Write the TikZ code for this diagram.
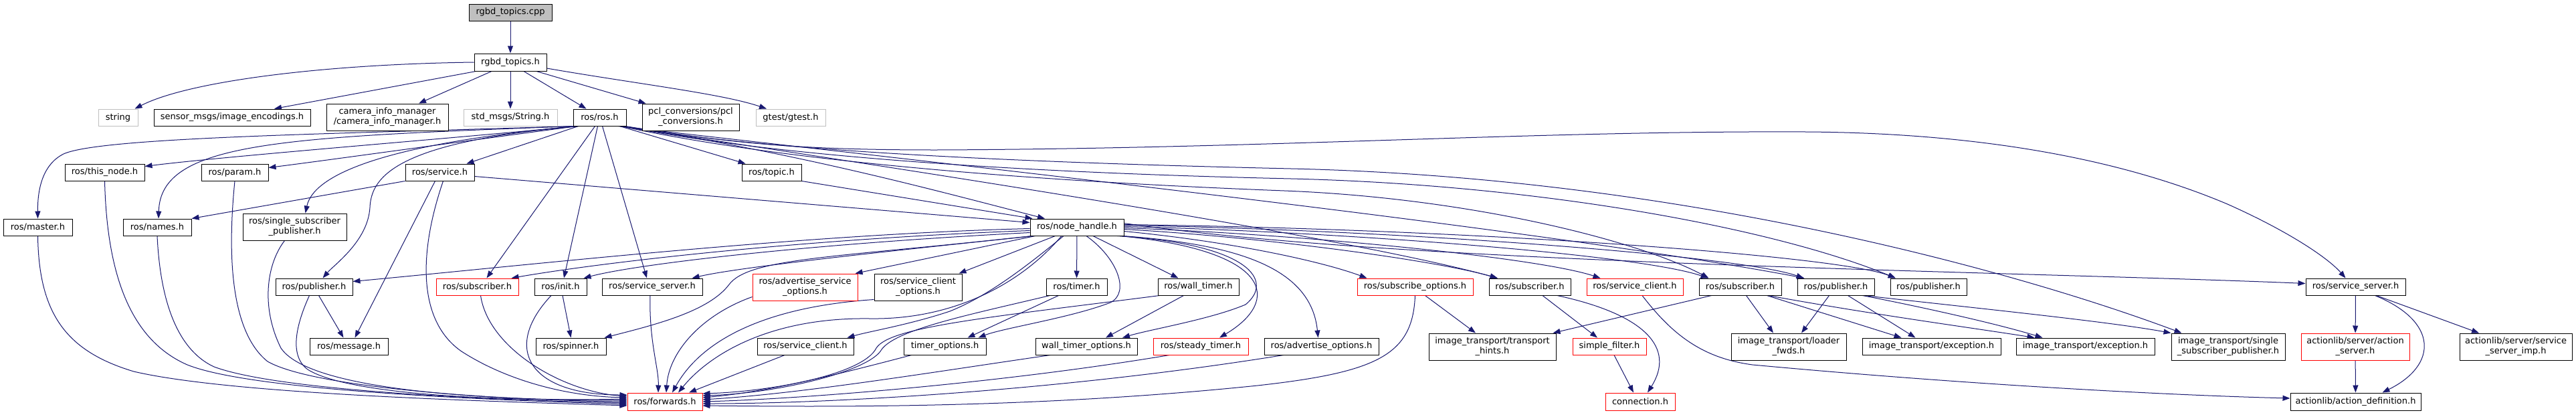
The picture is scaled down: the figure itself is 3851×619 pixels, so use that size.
\documentclass[tikz,border=0pt]{standalone}
\usepackage{fontspec}
\setmainfont{DejaVu Sans}
\usetikzlibrary{arrows.meta,backgrounds}
\definecolor{edgec}{HTML}{191970}
\definecolor{redb}{HTML}{FF0000}
\definecolor{grayb}{HTML}{BFBFBF}
\tikzset{
  bx/.style={draw=black, fill=white, line width=1pt, rectangle, inner sep=0pt, align=center, font=\fontsize{13}{15}\selectfont, minimum height=25pt},
  rb/.style={bx, draw=redb},
  gb/.style={bx, draw=grayb},
  tall/.style={minimum height=40pt},
  e/.style={draw=edgec, line width=1pt, -{Triangle[length=11pt,width=8pt]}},
}
\begin{document}
\begin{tikzpicture}[x=1pt,y=-1pt]
\useasboundingbox (0,0) rectangle (3851,619);
% row 0-1
\node[bx, fill=grayb, minimum width=124pt] (cpp) at (763,18.5) {rgbd\_topics.cpp};
\node[bx, minimum width=108pt, minimum height=26pt] (th) at (763,93) {rgbd\_topics.h};
% row 2
\node[gb, minimum width=59pt] (str) at (176.5,175.5) {string};
\node[bx, minimum width=234pt] (sme) at (347,175.5) {sensor\_msgs/image\_encodings.h};
\node[bx, tall, minimum width=182pt] (cim) at (579,175) {camera\_info\_manager\\/camera\_info\_manager.h};
\node[gb, minimum width=140pt] (smsg) at (763,175.5) {std\_msgs/String.h};
\node[bx, minimum width=79pt] (ros) at (896.5,175.5) {ros/ros.h};
\node[bx, tall, minimum width=145pt] (pcl) at (1032.5,175) {pcl\_conversions/pcl\\\_conversions.h};
\node[gb, minimum width=104pt] (gt) at (1182,175.5) {gtest/gtest.h};
% row 3
\node[bx, minimum width=119pt] (thisn) at (156.5,257.5) {ros/this\_node.h};
\node[bx, minimum width=100pt] (param) at (351,257.5) {ros/param.h};
\node[bx, minimum width=103pt] (serv) at (657.5,257.5) {ros/service.h};
\node[bx, minimum width=89pt] (topic) at (1153.5,257.5) {ros/topic.h};
% row 4
\node[bx, minimum width=103pt] (master) at (56.5,339.5) {ros/master.h};
\node[bx, minimum width=102pt] (names) at (235,339.5) {ros/names.h};
\node[bx, tall, minimum width=155pt] (ssp) at (440.5,339) {ros/single\_subscriber\\\_publisher.h};
\node[bx, minimum width=140pt] (nh) at (1610,339.5) {ros/node\_handle.h};
% row 5
\node[bx, minimum width=115pt] (pubA) at (469.5,428.5) {ros/publisher.h};
\node[rb, minimum width=123pt] (subA) at (713.5,428.5) {ros/subscriber.h};
\node[bx, minimum width=78pt] (init) at (838,428.5) {ros/init.h};
\node[bx, minimum width=150pt] (ssA) at (975,428.5) {ros/service\_server.h};
\node[rb, tall, minimum width=157pt] (aso) at (1203.5,429) {ros/advertise\_service\\\_options.h};
\node[bx, tall, minimum width=131pt] (sco) at (1372.5,429) {ros/service\_client\\\_options.h};
\node[bx, minimum width=91pt] (timer) at (1609.5,428.5) {ros/timer.h};
\node[bx, minimum width=121pt] (wtimer) at (1791.5,428.5) {ros/wall\_timer.h};
\node[rb, minimum width=173pt] (subo) at (2115.5,428.5) {ros/subscribe\_options.h};
\node[bx, minimum width=122pt] (subB) at (2287,428.5) {ros/subscriber.h};
\node[rb, minimum width=144pt] (scB) at (2444,428.5) {ros/service\_client.h};
\node[bx, minimum width=123pt] (subC) at (2601.5,428.5) {ros/subscriber.h};
\node[bx, minimum width=115pt] (pubB) at (2744.5,428.5) {ros/publisher.h};
\node[bx, minimum width=114pt] (pubC) at (2883,428.5) {ros/publisher.h};
\node[bx, minimum width=149pt] (ssB) at (3521.5,428.5) {ros/service\_server.h};
% row 6
\node[bx, minimum width=117pt] (msg) at (521.5,517.5) {ros/message.h};
\node[bx, minimum width=105pt] (spin) at (853.5,517.5) {ros/spinner.h};
\node[bx, minimum width=144pt] (scA) at (1204,517.5) {ros/service\_client.h};
\node[bx, minimum width=123pt] (topt) at (1412.5,517.5) {timer\_options.h};
\node[bx, minimum width=152pt] (wtopt) at (1624,517.5) {wall\_timer\_options.h};
\node[rb, minimum width=142pt] (stimer) at (1795,517.5) {ros/steady\_timer.h};
\node[bx, minimum width=171pt] (advo) at (1975.5,517.5) {ros/advertise\_options.h};
\node[bx, tall, minimum width=190pt] (th2) at (2231,518) {image\_transport/transport\\\_hints.h};
\node[rb, minimum width=110pt] (sf) at (2406,517.5) {simple\_filter.h};
\node[bx, tall, minimum width=172pt] (lf) at (2674,518) {image\_transport/loader\\\_fwds.h};
\node[bx, minimum width=207pt] (exA) at (2887.5,517.5) {image\_transport/exception.h};
\node[bx, minimum width=207pt] (exB) at (3117.5,517.5) {image\_transport/exception.h};
\node[bx, tall, minimum width=170pt] (isp) at (3331,518) {image\_transport/single\\\_subscriber\_publisher.h};
\node[rb, tall, minimum width=162pt] (as) at (3521,518) {actionlib/server/action\\\_server.h};
\node[bx, tall, minimum width=168pt] (ssi) at (3761,518) {actionlib/server/service\\\_server\_imp.h};
% row 7
\node[rb, minimum width=112pt, minimum height=26pt] (fwd) at (994,600) {ros/forwards.h};
\node[rb, minimum width=104pt, minimum height=26pt] (conn) at (2452,600) {connection.h};
\node[bx, minimum width=195pt, minimum height=26pt] (ad) at (3521.5,600) {actionlib/action\_definition.h};

\begin{scope}[on background layer]
\fill[white] (0,0) rectangle (3851,619);
% top
\draw[e] (cpp) -- (th);
\draw[e] (th.west) .. controls (480,96) and (280,122) .. ([xshift=-5pt]str.north east);
\draw[e] ([xshift=3pt]th.south west) -- ([xshift=63pt]sme.north);
\draw[e] ([xshift=-28pt]th.south) -- ([xshift=47pt]cim.north);
\draw[e] (th) -- (smsg);
\draw[e] ([xshift=20pt]th.south) -- ([xshift=-20pt]ros.north);
\draw[e] ([xshift=39pt]th.south) -- ([xshift=-67pt]pcl.north);
\draw[e] ([yshift=-9pt]th.east) .. controls (950,125) and (1080,140) .. ([xshift=-36pt]gt.north);
% ros to the left
\draw[e] ([xshift=-32pt]ros.south) -- ([xshift=40pt]serv.north);
\draw[e] ([xshift=4pt]ros.south west) .. controls (700,205) and (350,232) .. ([yshift=9pt]thisn.east);
\draw[e] ([xshift=6pt]ros.south west) .. controls (700,210) and (500,238) .. ([yshift=7pt]param.east);
\draw[e] ([xshift=1pt]ros.south west) .. controls (500,200) and (150,205) .. (95,230) .. controls (65,245) and (56,280) .. (master.north);
\draw[e] ([xshift=2pt]ros.south west) .. controls (420,205) and (240,212) .. ([xshift=2pt]names.north);
\draw[e] ([xshift=7pt]ros.south west) .. controls (600,212) and (470,255) .. ([xshift=16pt]ssp.north);
\draw[e] ([xshift=9pt]ros.south west) .. controls (590,212) and (555,265) .. (553,310) .. controls (550,360) and (500,395) .. ([xshift=13pt]pubA.north);
\draw[e] ([xshift=-7pt]ros.south) -- ([xshift=14pt]subA.north);
\draw[e] ([xshift=-3pt]ros.south) -- ([xshift=5pt]init.north);
\draw[e] ([xshift=4pt]ros.south) -- ([xshift=-8pt]ssA.north);
\draw[e] ([xshift=30pt]ros.south) -- ([xshift=6pt]topic.north west);
\draw[e] ([xshift=35pt]ros.south) .. controls (1200,230) and (1400,285) .. ([xshift=-48pt]nh.north);
\draw[e] (topic.south east) -- ([xshift=4pt]nh.north west);
\draw[e] ([yshift=-6pt]serv.east) -- ([yshift=7pt]nh.west);
% ros to the right
\draw[e] ([xshift=-2pt]ros.south east) .. controls (1100,215) and (1200,224) .. (1400,224) .. controls (1900,222) and (2300,195) .. (2700,197) .. controls (3000,199) and (3200,250) .. (3330,305) .. controls (3420,345) and (3480,385) .. ([xshift=-15pt]ssB.north);
\draw[e] ([xshift=-4pt]ros.south east) .. controls (1100,218) and (1400,240) .. (1930,252) .. controls (2500,265) and (3000,400) .. ([xshift=16pt]isp.north west);
\draw[e] ([xshift=-6pt]ros.south east) .. controls (1100,222) and (1400,255) .. (1930,267) .. controls (2300,276) and (2650,340) .. ([xshift=-49pt]pubC.north);
\draw[e] ([xshift=-8pt]ros.south east) .. controls (1100,226) and (1400,265) .. (1920,285) .. controls (2200,296) and (2450,360) .. ([xshift=-47pt]subC.north);
\draw[e] ([xshift=-10pt]ros.south east) .. controls (1300,245) and (2000,350) .. ([xshift=-48pt]subB.north);
\draw[e] ([xshift=-12pt]ros.south east) .. controls (1300,232) and (2300,340) .. ([xshift=-47pt]pubB.north);
% node_handle to the right
\draw[e] ([yshift=-6pt]nh.east) .. controls (1850,362) and (1980,392) .. ([xshift=15pt]subo.north west);
\draw[e] ([yshift=-3pt]nh.east) .. controls (1900,355) and (2150,390) .. ([xshift=13pt]subB.north west);
\draw[e] ([yshift=-1pt]nh.east) .. controls (1950,350) and (2300,385) .. ([xshift=21pt]scB.north west);
\draw[e] ([yshift=1pt]nh.east) .. controls (2000,346) and (2450,380) .. ([xshift=14pt]subC.north west);
\draw[e] ([yshift=3pt]nh.east) .. controls (2100,344) and (2600,382) .. ([xshift=10pt]pubB.north west);
\draw[e] ([yshift=4pt]nh.east) .. controls (2200,342) and (2750,382) .. ([xshift=8pt]pubC.north west);
\draw[e] ([yshift=6pt]nh.east) .. controls (2100,395) and (3000,405) .. ([yshift=5pt]ssB.west);
\draw[e] ([xshift=-2pt]nh.south east) .. controls (1850,365) and (1960,400) .. ([xshift=-5pt]advo.north);
\draw[e] ([xshift=-6pt]nh.south east) .. controls (1905,375) and (1915,450) .. ([xshift=28pt]stimer.north);
\draw[e] ([xshift=-10pt]nh.south east) .. controls (1870,365) and (1905,420) .. (1862,455) .. controls (1810,477) and (1720,492) .. ([xshift=54pt]wtopt.north);
\draw[e] ([xshift=24pt]nh.south) -- ([xshift=-30pt]wtimer.north);
\draw[e] (nh) -- (timer);
\draw[e] ([xshift=14pt]nh.south) .. controls (1670,385) and (1690,437) .. (1660,452) .. controls (1600,475) and (1500,490) .. ([xshift=50pt]topt.north);
% node_handle to the left
\draw[e] ([yshift=-2pt]nh.west) .. controls (1200,350) and (800,395) .. ([yshift=8pt]pubA.east);
\draw[e] ([yshift=-5pt]nh.west) .. controls (1200,357) and (900,392) .. ([xshift=-11pt]subA.north east);
\draw[e] ([yshift=-8pt]nh.west) .. controls (1200,365) and (950,395) .. ([xshift=-5pt]init.north east);
\draw[e] ([xshift=6pt]nh.south west) .. controls (1300,378) and (1100,400) .. ([xshift=-16pt]ssA.north east);
\draw[e] ([xshift=8pt]nh.south west) -- ([xshift=-4pt]aso.north east);
\draw[e] ([xshift=38pt]nh.south west) -- ([xshift=-5pt]sco.north east);
\draw[e] ([xshift=3pt]nh.south west) .. controls (1250,385) and (1120,385) .. (1090,425) .. controls (1060,465) and (980,485) .. ([xshift=-3pt]spin.north east);
\draw[e] ([xshift=-20pt]nh.south) .. controls (1520,410) and (1470,445) .. (1420,465) .. controls (1360,485) and (1300,495) .. ([xshift=-10pt]scA.north east);
\draw[e] ([xshift=-23pt]nh.south) .. controls (1530,420) and (1430,478) .. (1300,476) .. controls (1150,474) and (1060,530) .. ([xshift=20pt]fwd.north);
% into forwards from above
\draw[e] ([yshift=2pt]sco.south west) .. controls (1150,458) and (1050,505) .. ([xshift=11pt]fwd.north);
\draw[e] ([yshift=6pt]aso.south west) .. controls (1050,470) and (1000,525) .. ([xshift=2pt]fwd.north);
\draw[e] ([xshift=-3pt]ssA.south) .. controls (970,510) and (985,550) .. ([xshift=-10pt]fwd.north);
\draw[e] ([xshift=-31pt]scA.south) -- ([xshift=36pt]fwd.north);
% into forwards from the right
\draw[e] ([xshift=-40pt]timer.south) .. controls (1450,470) and (1340,492) .. (1318,522) .. controls (1300,555) and (1160,588) .. ([yshift=9pt]fwd.east);
\draw[e] ([xshift=-58pt]wtimer.south) .. controls (1480,474) and (1330,488) .. (1310,520) .. controls (1290,560) and (1150,585) .. ([yshift=12pt]fwd.east);
\draw[e] ([xshift=-50pt]topt.south) .. controls (1250,560) and (1150,585) .. ([yshift=6pt]fwd.east);
\draw[e] ([xshift=-54pt]wtopt.south) .. controls (1400,555) and (1200,588) .. ([yshift=3pt]fwd.east);
\draw[e] ([xshift=-47pt]stimer.south) .. controls (1500,572) and (1200,596) .. (fwd.east);
\draw[e] ([xshift=-57pt]advo.south) .. controls (1600,582) and (1250,603) .. ([yshift=-3pt]fwd.east);
\draw[e] (subo.south) .. controls (2112,530) and (2060,556) .. (1880,576) .. controls (1550,610) and (1250,608) .. ([yshift=-6pt]fwd.east);
% into forwards from the left
\draw[e] (master.south) .. controls (58,470) and (100,525) .. (200,555) .. controls (350,590) and (750,600) .. ([yshift=-6pt]fwd.west);
\draw[e] (thisn.south) .. controls (160,420) and (200,510) .. (280,545) .. controls (380,585) and (750,598) .. ([yshift=-4pt]fwd.west);
\draw[e] (names.south) .. controls (240,460) and (270,525) .. (320,548) .. controls (420,585) and (750,598) .. ([yshift=-2pt]fwd.west);
\draw[e] (param.south) .. controls (338,400) and (350,500) .. (400,540) .. controls (470,580) and (750,598) .. (fwd.west);
\draw[e] ([xshift=-15pt]ssp.south) .. controls (398,395) and (390,460) .. (420,520) .. controls (460,580) and (700,598) .. ([yshift=2pt]fwd.west);
\draw[e] ([xshift=-7pt]pubA.south) .. controls (445,480) and (430,530) .. (460,552) .. controls (520,590) and (750,600) .. ([yshift=4pt]fwd.west);
\draw[e] ([xshift=5pt]serv.south) .. controls (625,380) and (625,480) .. (690,525) .. controls (760,570) and (850,592) .. ([yshift=6pt]fwd.west);
\draw[e] ([xshift=5pt]subA.south) .. controls (730,520) and (840,585) .. ([yshift=8pt]fwd.west);
\draw[e] ([xshift=-14pt]init.south) .. controls (750,520) and (790,590) .. ([yshift=10pt]fwd.west);
% small local edges
\draw[e] ([xshift=7pt]pubA.south) -- ([xshift=-8pt]msg.north);
\draw[e] ([xshift=-7pt]serv.south) -- ([xshift=9pt]msg.north);
\draw[e] (serv.south west) -- (names.north east);
\draw[e] ([xshift=3pt]init.south) -- (spin.north);
\draw[e] ([xshift=-27pt]timer.south) -- ([xshift=34pt]topt.north);
\draw[e] ([xshift=-22pt]wtimer.south) -- ([xshift=29pt]wtopt.north);
\draw[e] ([xshift=15pt]subo.south) -- ([xshift=-25pt]th2.north);
\draw[e] ([xshift=19pt]subB.south) -- ([xshift=-18pt]sf.north);
\draw[e] ([xshift=41pt]subB.south) .. controls (2460,470) and (2505,520) .. ([xshift=11pt]conn.north);
\draw[e] ([xshift=7pt]sf.south) -- ([xshift=-10pt]conn.north);
\draw[e] ([xshift=11pt]scB.south) .. controls (2500,500) and (2545,535) .. (2620,545) .. controls (3000,580) and (3300,592) .. ([yshift=5pt]ad.west);
\draw[e] ([xshift=-43pt]subC.south) -- ([xshift=-5pt]th2.north east);
\draw[e] ([xshift=9pt]subC.south) -- ([xshift=-23pt]lf.north);
\draw[e] ([xshift=40pt]subC.south) -- ([xshift=-45pt]exA.north);
\draw[e] ([xshift=42pt]subC.south) .. controls (2800,470) and (2950,490) .. ([xshift=-76pt]exB.north);
\draw[e] ([xshift=-10pt]pubB.south) -- ([xshift=19pt]lf.north);
\draw[e] ([xshift=18pt]pubB.south) -- ([xshift=-24pt]exA.north);
\draw[e] ([xshift=40pt]pubB.south) .. controls (2880,460) and (2990,485) .. ([xshift=-64pt]exB.north);
\draw[e] ([xshift=42pt]pubB.south) .. controls (2950,460) and (3150,480) .. (isp.north west);
\draw[e] (ssB) -- (as);
\draw[e] ([xshift=29pt]ssB.south) .. controls (3645,480) and (3645,545) .. ([xshift=40pt]ad.north);
\draw[e] ([xshift=31pt]ssB.south) -- ([xshift=-55pt]ssi.north);
\draw[e] (as) -- (ad);
\end{scope}
\end{tikzpicture}
\end{document}
